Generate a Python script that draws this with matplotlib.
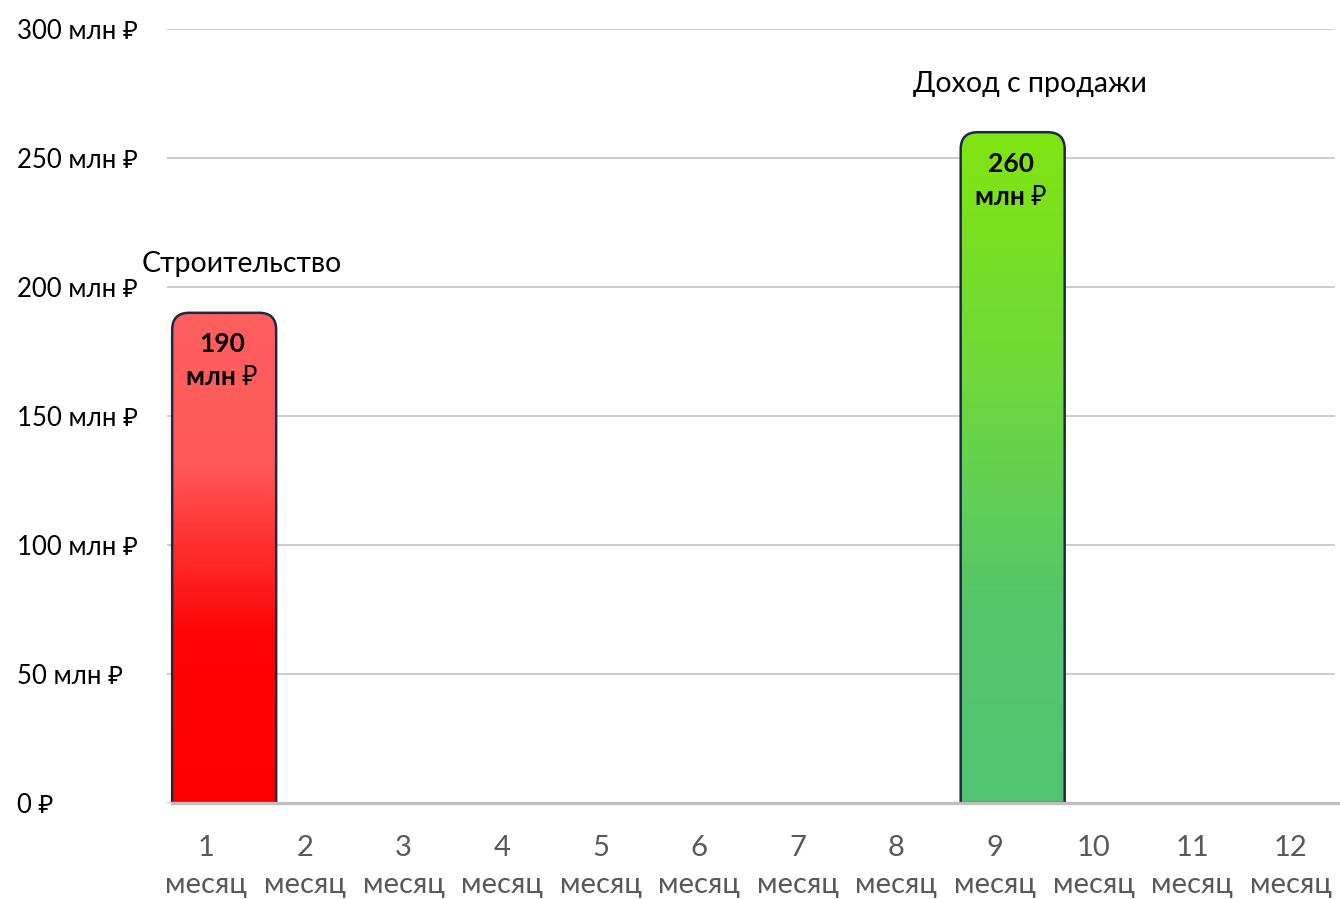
import numpy as np
import matplotlib.pyplot as plt
from matplotlib.path import Path
from matplotlib.patches import PathPatch
from matplotlib.colors import LinearSegmentedColormap

plt.rcParams["font.family"] = ["Lato", "Noto Sans", "DejaVu Sans"]

months = [f"{i}\nмесяц" for i in range(1, 13)]
bar_months = [1, 9]  # номер месяца
bar_values = [190, 260]  # млн ₽
bar_names = ["Строительство", "Доход с продажи"]
bar_labels = ["190\nмлн ₽", "260\nмлн ₽"]
y_ticks = [0, 50, 100, 150, 200, 250, 300]
y_tick_labels = ["0 ₽", "50 млн ₽", "100 млн ₽", "150 млн ₽",
                 "200 млн ₽", "250 млн ₽", "300 млн ₽"]

red_cmap = LinearSegmentedColormap.from_list(
    "red", [(0, "#FF5F5F"), (0.3, "#FF5A5A"), (0.65, "#FF0505"), (1, "#FF0000")])
green_cmap = LinearSegmentedColormap.from_list(
    "green", [(0, "#80E510"), (0.35, "#6FD93A"), (0.7, "#56C66A"), (1, "#52C472")])
cmaps = [red_cmap, green_cmap]

W, H = 1340, 899
fig = plt.figure(figsize=(W / 100, H / 100), dpi=100)
ax_l, ax_r, ax_t, ax_b = 167, 1335, 29, 803
ax = fig.add_axes([ax_l / W, 1 - ax_b / H, (ax_r - ax_l) / W, (ax_b - ax_t) / H])

x_min, x_max = -0.4, 11.45
ax.set_xlim(x_min, x_max)
ax.set_ylim(0, 300)

# pixel sizes for rounded corners
px_x = (ax_r - ax_l) / (x_max - x_min)
px_y = (ax_b - ax_t) / 300
r_px = 17
rx, ry = r_px / px_x, r_px / px_y

width = 1.055
offset = 0.18
for m, v, cmap, name, lbl in zip(bar_months, bar_values, cmaps, bar_names, bar_labels):
    xc = m - 1 + offset
    x0, x1 = xc - width / 2, xc + width / 2
    y0, y1 = 0, v
    verts = [(x0, y0), (x1, y0), (x1, y1 - ry), (x1, y1), (x1 - rx, y1),
             (x0 + rx, y1), (x0, y1), (x0, y1 - ry), (x0, y0)]
    codes = [Path.MOVETO, Path.LINETO, Path.LINETO, Path.CURVE3, Path.CURVE3,
             Path.LINETO, Path.CURVE3, Path.CURVE3, Path.CLOSEPOLY]
    patch = PathPatch(Path(verts, codes), facecolor="none", edgecolor="#1B2A4A",
                      lw=1.8, zorder=4)
    ax.add_patch(patch)
    grad = np.linspace(0, 1, 256).reshape(-1, 1)
    im = ax.imshow(grad, cmap=cmap, aspect="auto", extent=(x0, x1, y0, y1),
                   origin="upper", zorder=3)
    im.set_clip_path(patch)
    ax.annotate(lbl, (xc - 0.02, v), xytext=(0, -14), textcoords="offset points",
                ha="center", va="top", fontsize=19, fontweight="bold",
                linespacing=1.45, zorder=5)
    ax.annotate(name, (xc + 0.18, v), xytext=(0, 35), textcoords="offset points",
                ha="center", va="center", fontsize=20.5, zorder=5)

ax.set_xlim(x_min, x_max)
ax.set_ylim(0, 300)

ax.set_xticks(range(12))
ax.set_xticklabels(months, color="#595959", fontsize=21, linespacing=1.55)
ax.set_yticks(y_ticks)
ax.set_yticklabels(y_tick_labels, fontsize=18.5)
ax.tick_params(axis="x", length=0, pad=23)
ax.tick_params(axis="y", length=0, pad=(ax_l - 17) * 72 / 100)
for t in ax.get_yticklabels():
    t.set_horizontalalignment("left")

ax.yaxis.grid(True, color="#BFBFBF", lw=1.1)
ax.set_axisbelow(True)
for s in ax.spines.values():
    s.set_visible(False)
ax.axhline(0, xmin=(172 - ax_l) / (ax_r - ax_l), xmax=1.01, color="#BFBFBF",
           lw=2.4, zorder=6, clip_on=False)

fig.savefig("out.png", dpi=100)
